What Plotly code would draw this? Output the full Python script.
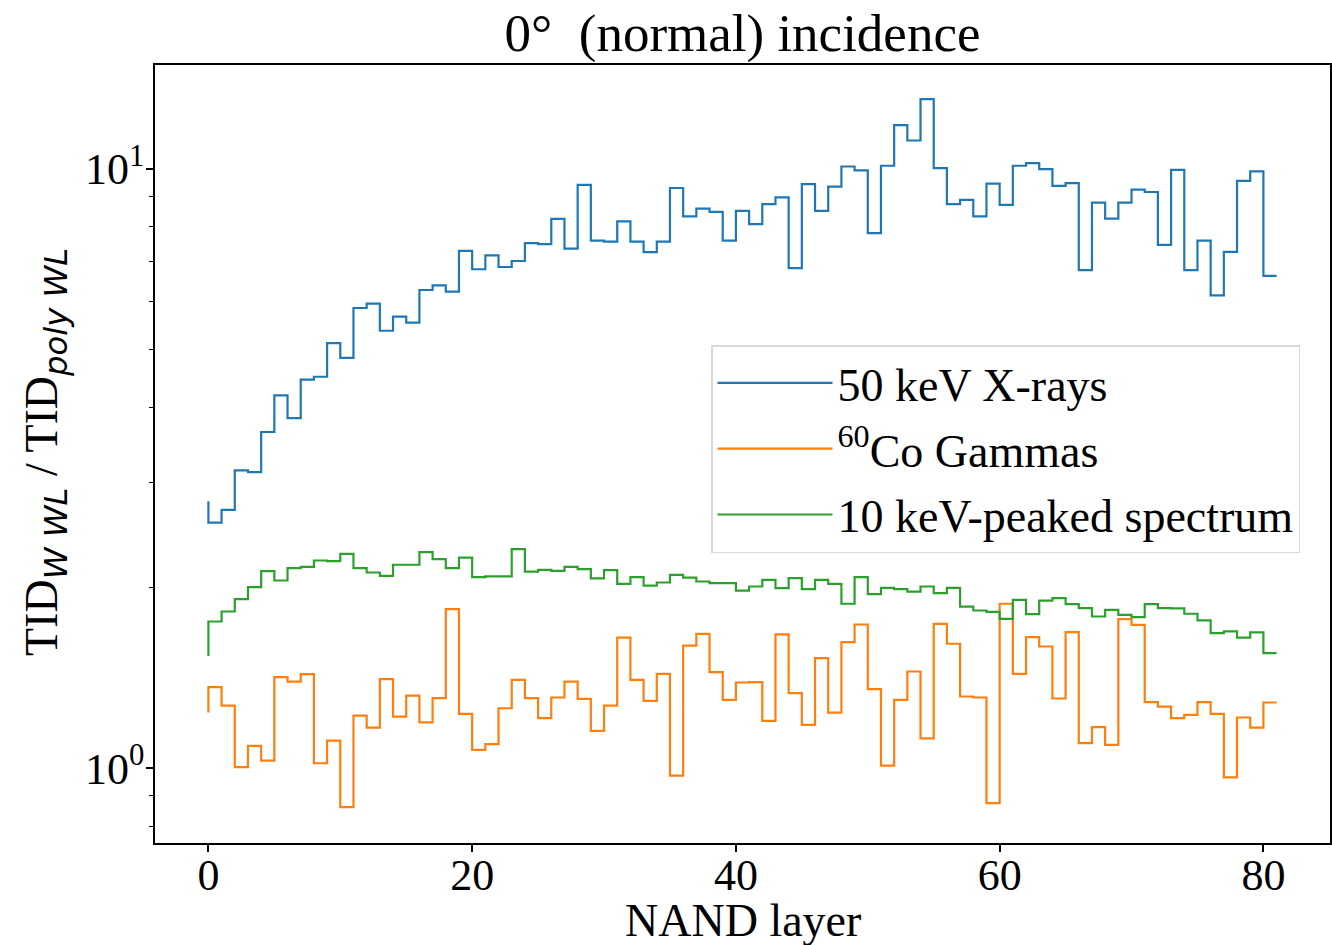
import plotly.graph_objects as go

layer = list(range(82))

xray_50kev = [2.79, 2.57, 2.70, 3.14, 3.12, 3.64, 4.19, 3.84, 4.45, 4.50,
              5.12, 4.84, 5.86, 5.96, 5.37, 5.67, 5.54, 6.28, 6.39, 6.24,
              7.30, 6.80, 7.17, 6.86, 7.02, 7.52, 7.49, 8.25, 7.36, 9.40,
              7.59, 7.56, 8.17, 7.56, 7.26, 7.56, 9.29, 8.33, 8.58, 8.48,
              7.59, 8.51, 8.09, 8.73, 8.96, 6.83, 9.43, 8.51, 9.34, 10.09,
              9.94, 7.81, 10.12, 11.83, 11.15, 13.07, 10.03, 8.73, 8.88, 8.33,
              9.45, 8.71, 10.12, 10.22, 9.99, 9.37, 9.47, 6.78, 8.78, 8.26,
              8.78, 9.23, 9.15, 7.47, 9.96, 6.78, 7.59, 6.15, 7.27, 9.55,
              9.90, 6.63]

co60_gammas = [1.239, 1.366, 1.273, 1.005, 1.09, 1.03, 1.42, 1.396, 1.436, 1.02,
               1.113, 0.862, 1.225, 1.17, 1.409, 1.22, 1.323, 1.193, 1.31, 1.844,
               1.233, 1.074, 1.098, 1.26, 1.405, 1.31, 1.213, 1.313, 1.396, 1.306,
               1.155, 1.273, 1.653, 1.405, 1.296, 1.438, 0.973, 1.603, 1.677, 1.447,
               1.301, 1.391, 1.393, 1.2, 1.673, 1.335, 1.182, 1.527, 1.239, 1.624,
               1.738, 1.356, 1.011, 1.301, 1.451, 1.122, 1.742, 1.614, 1.318, 1.313,
               0.875, 1.882, 1.438, 1.656, 1.597, 1.308, 1.688, 1.102, 1.172, 1.095,
               1.774, 1.736, 1.29, 1.268, 1.213, 1.228, 1.29, 1.233, 0.966, 1.216,
               1.17, 1.288]

peaked_10kev = [1.54, 1.758, 1.827, 1.916, 2.006, 2.133, 2.058, 2.158, 2.169, 2.222,
                2.217, 2.280, 2.158, 2.122, 2.095, 2.186, 2.186, 2.295, 2.234, 2.158,
                2.247, 2.085, 2.09, 2.09, 2.322, 2.13, 2.144, 2.136, 2.169, 2.149,
                2.074, 2.141, 2.032, 2.085, 2.018, 2.042, 2.103, 2.081, 2.05, 2.037,
                2.037, 1.980, 2.011, 2.063, 1.998, 2.077, 1.991, 2.063, 2.032, 1.882,
                2.085, 1.953, 2.001, 1.991, 1.972, 2.011, 1.96, 2.001, 1.862, 1.834,
                1.824, 1.776, 1.911, 1.808, 1.905, 1.923, 1.879, 1.851, 1.792, 1.839,
                1.804, 1.788, 1.879, 1.851, 1.849, 1.811, 1.765, 1.681, 1.692, 1.653,
                1.686, 1.557]

series_names = ["50 keV X-rays", "<sup>60</sup>Co Gammas", "10 keV-peaked spectrum"]
series_colors = ["#1f77b4", "#ff7f0e", "#2ca02c"]
x_tick_vals = [0, 20, 40, 60, 80]
y_tick_vals = [1, 10]
y_tick_text = ["10<sup>0</sup>", "10<sup>1</sup>"]
y_minor_vals = [0.8, 0.9, 2, 3, 4, 5, 6, 7, 8, 9]

SERIF = "Liberation Serif, Times New Roman, serif"
W, H = 1332, 945
ML, MR, MT, MB = 155, 2, 65, 102
PW, PH = W - ML - MR, H - MT - MB

fig = go.Figure()
for name, vals, col in zip(series_names, [xray_50kev, co60_gammas, peaked_10kev], series_colors):
    fig.add_trace(go.Scatter(
        x=layer, y=vals, mode="lines", name=name,
        line=dict(color=col, width=2.2, shape="vh"),
        legendgroup=name,
    ))

sub = lambda t: '<sub><span style="font-family:DejaVu Sans"><i>%s</i></span></sub>' % t
ytitle = "TID" + sub("W WL") + " / TID" + sub("poly WL")

fig.update_layout(
    width=W, height=H,
    margin=dict(l=ML, r=MR, t=MT, b=MB, autoexpand=False),
    paper_bgcolor="white", plot_bgcolor="white",
    font=dict(family=SERIF, color="black", size=44),
    title=dict(text="0°&nbsp; (normal) incidence", x=0.5, xref="paper", xanchor="center",
               y=1 - 32 / H, yanchor="middle", font=dict(size=53, family=SERIF)),
    showlegend=True,
    legend=dict(
        x=(711 - ML) / PW, y=(MT + PH - 345) / PH, xanchor="left", yanchor="top",
        bordercolor="#d9d9d9", borderwidth=1.5, bgcolor="rgba(255,255,255,0.8)",
        font=dict(size=46, family=SERIF), itemwidth=115, tracegroupgap=3,
    ),
    annotations=[
        dict(text="NAND layer", xref="paper", yref="paper", x=0.5, y=-(920 - MT - PH) / PH,
             xanchor="center", yanchor="middle", showarrow=False,
             font=dict(size=46, family=SERIF)),
        dict(text=ytitle, xref="paper", yref="paper", x=(45 - ML) / PW, y=(MT + PH - 452) / PH,
             xanchor="center", yanchor="middle", textangle=-90, showarrow=False,
             font=dict(size=46, family=SERIF)),
    ],
)

fig.update_xaxes(
    range=[-4.05, 85.05], tickmode="array", tickvals=x_tick_vals,
    ticks="outside", ticklen=7, tickwidth=1.5, tickcolor="black",
    showline=True, linecolor="black", linewidth=1.6, mirror=True,
    showgrid=False, zeroline=False, automargin=False, ticklabelstandoff=-15,
    tickfont=dict(size=44, family=SERIF),
)
fig.update_yaxes(
    type="log", range=[-0.1244, 1.1732], tickmode="array",
    tickvals=y_tick_vals, ticktext=y_tick_text,
    ticks="outside", ticklen=7, tickwidth=1.5, tickcolor="black",
    minor=dict(tickmode="array", tickvals=y_minor_vals, ticks="outside",
               ticklen=4, tickwidth=1.2, tickcolor="black", showgrid=False),
    showline=True, linecolor="black", linewidth=1.6, mirror=True,
    showgrid=False, zeroline=False, automargin=False, ticklabelstandoff=-7,
    tickfont=dict(size=44, family=SERIF),
)

fig.write_html("out.html", config={"displayModeBar": False},
               post_script="document.body.style.margin='0';document.body.style.overflow='hidden';")
